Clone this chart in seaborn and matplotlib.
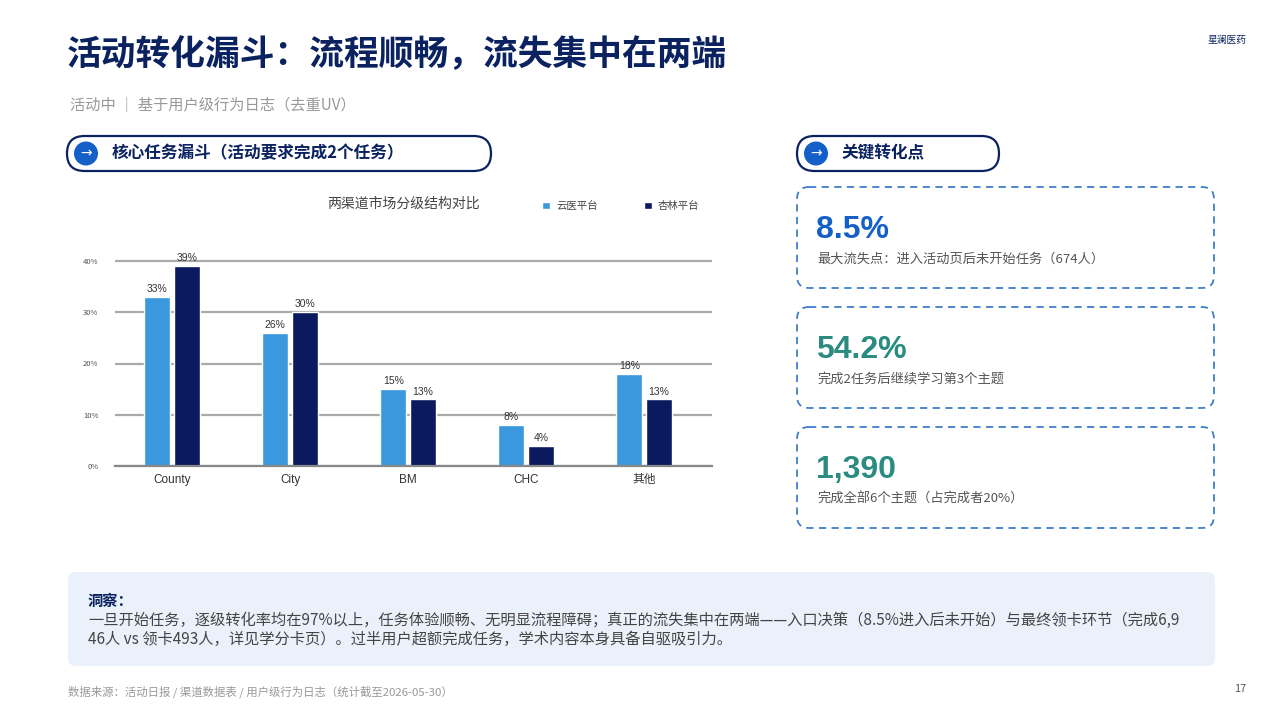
import matplotlib
matplotlib.use("Agg")
import matplotlib.pyplot as plt
from matplotlib.patches import FancyBboxPatch, Circle
import pandas as pd
import seaborn as sns

# 图表数据
categories = ["County", "City", "BM", "CHC", "其他"]
platforms = ["云医平台", "杏林平台"]
yunyi_share = [33, 26, 15, 8, 18]
xinlin_share = [39, 30, 13, 4, 13]
y_ticks = [0, 10, 20, 30, 40]

# 右侧关键指标
kpi_values = ["8.5%", "54.2%", "1,390"]
kpi_notes = ["最大流失点：进入活动页后未开始任务（674人）",
             "完成2任务后继续学习第3个主题",
             "完成全部6个主题（占完成者20%）"]

df = pd.DataFrame({
    "渠道": categories * 2,
    "平台": [platforms[0]] * len(categories) + [platforms[1]] * len(categories),
    "占比": yunyi_share + xinlin_share,
})

sns.set_theme(style="white")
plt.rcParams["font.family"] = ["Noto Sans CJK SC", "DejaVu Sans"]
LATIN = ["Liberation Sans", "Noto Sans CJK SC", "DejaVu Sans"]

NAVY = "#0B2260"
BLUE = "#1560C8"
TEAL = "#2A8C80"
GREY = "#999999"

fig = plt.figure(figsize=(12.8, 7.2), dpi=100)

# 背景层（像素坐标）
bg = fig.add_axes([0, 0, 1, 1])
bg.set_xlim(0, 1280)
bg.set_ylim(720, 0)
bg.axis("off")

bg.text(67, 55, "活动转化漏斗：流程顺畅，流失集中在两端", fontsize=25, fontweight="bold",
        color=NAVY, va="center", ha="left")
bg.text(70, 105, "活动中 ｜ 基于用户级行为日志（去重UV）", fontsize=11, color=GREY,
        va="center", ha="left")
bg.text(1247, 40, "星澜医药", fontsize=7, color=NAVY, va="center", ha="right")


def pill(x0, x1, y0, y1, label):
    h = y1 - y0
    bg.add_patch(FancyBboxPatch((x0, y0), x1 - x0, h,
                                boxstyle=f"round,pad=0,rounding_size={h / 2}",
                                fc="white", ec=NAVY, lw=1.6))
    cx, cy = x0 + 19, (y0 + y1) / 2
    bg.add_patch(Circle((cx, cy), 12, fc=BLUE, ec="none"))
    bg.text(cx, cy, "→", color="white", fontsize=10, ha="center", va="center",
            family=["DejaVu Sans"])
    bg.text(x0 + 45, cy, label, fontsize=12, fontweight="bold", color=NAVY,
            ha="left", va="center")


pill(67, 491, 136, 171, "核心任务漏斗（活动要求完成2个任务）")
pill(797, 999, 136, 171, "关键转化点")

# 关键指标卡片
card_tops = [187, 307, 427]
kpi_colors = [BLUE, TEAL, TEAL]
for top, val, note, col in zip(card_tops, kpi_values, kpi_notes, kpi_colors):
    bg.add_patch(FancyBboxPatch((797, top), 417, 101,
                                boxstyle="round,pad=0,rounding_size=12",
                                fc="white", ec="#3F7FC9", lw=1.3,
                                ls=(0, (4, 3))))
    bg.text(816, top + 43, val, fontsize=23, fontweight="bold", color=col,
            ha="left", va="center", family=LATIN)
    bg.text(817, top + 72, note, fontsize=9.5, color="#555555", ha="left", va="center")

# 洞察框
bg.add_patch(FancyBboxPatch((68, 572), 1147, 94, boxstyle="round,pad=0,rounding_size=8",
                            fc="#EAF1FA", ec="none"))
bg.text(88, 601, "洞察：", fontsize=11, fontweight="bold", color=NAVY, ha="left", va="center")
bg.text(88, 620, "一旦开始任务，逐级转化率均在97%以上，任务体验顺畅、无明显流程障碍；真正的流失集中在两端——入口决策（8.5%进入后未开始）与最终领卡环节（完成6,9",
        fontsize=11, color="#444444", ha="left", va="center")
bg.text(88, 639, "46人 vs 领卡493人，详见学分卡页）。过半用户超额完成任务，学术内容本身具备自驱吸引力。",
        fontsize=11, color="#444444", ha="left", va="center")

bg.text(68, 692, "数据来源：活动日报 / 渠道数据表 / 用户级行为日志（统计截至2026-05-30）",
        fontsize=8.2, color=GREY, ha="left", va="center")
bg.text(1246, 689, "17", fontsize=8, color="#555555", ha="right", va="center")

# 柱状图
ytop = 40.6
ppu = (466 - 261) / 40
ax = fig.add_axes([115 / 1280, 1 - 466 / 720, (712 - 115) / 1280, ytop * ppu / 720])
sns.barplot(data=df, x="渠道", y="占比", hue="平台", order=categories, hue_order=platforms,
            palette=["#3B97DE", "#0B1A5E"], width=0.5, gap=0.12, ax=ax, saturation=1)
ax.set_xlim(-0.483, 4.576)
ax.set_ylim(0, ytop)
ax.set_yticks(y_ticks)
ax.set_yticklabels([f"{t}%" for t in y_ticks], fontsize=5.5, color="#555555")
ax.yaxis.grid(True, color="#AAAAAA", lw=1.6)
ax.set_axisbelow(True)
ax.tick_params(axis="both", length=0)
ax.tick_params(axis="x", labelsize=8.5, labelcolor="#333333", pad=6)
ax.tick_params(axis="y", pad=12)
for lbl in ax.get_xticklabels():
    lbl.set_family(LATIN)
ax.set_xlabel("")
ax.set_ylabel("")
for s in ["left", "right", "top"]:
    ax.spines[s].set_visible(False)
ax.spines["bottom"].set_color("#888888")
ax.spines["bottom"].set_linewidth(1.6)
for cont in ax.containers:
    ax.bar_label(cont, fmt="%d%%", padding=2, fontsize=7.5, color="#333333", family=LATIN)

handles, labels = ax.get_legend_handles_labels()
ax.legend(handles, labels, ncol=2, frameon=False, loc="center left",
          bbox_to_anchor=(533 / 1280, 1 - 206 / 720), bbox_transform=fig.transFigure,
          handlelength=0.7, handleheight=0.7, handletextpad=0.6, columnspacing=4.5,
          fontsize=7.5, labelcolor="#444444")
fig.text(403 / 1280, 1 - 204 / 720, "两渠道市场分级结构对比", fontsize=10, color="#444444",
         ha="center", va="center")

fig.savefig("out.png", dpi=100)
